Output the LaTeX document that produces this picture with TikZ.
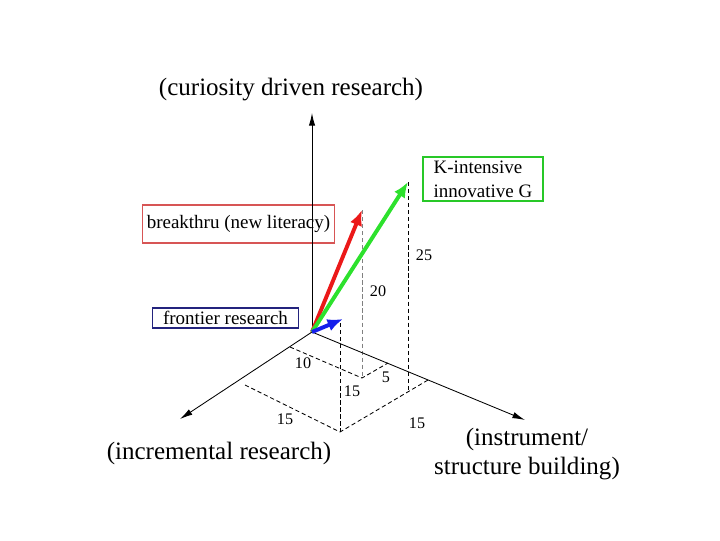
\documentclass[tikz,border=0pt]{standalone}
\usepackage{fontspec}
\setmainfont{Liberation Serif}
\usetikzlibrary{arrows.meta}

\definecolor{vecred}{RGB}{235,25,25}
\definecolor{vecgreen}{RGB}{45,225,45}
\definecolor{vecblue}{RGB}{20,30,235}
\definecolor{boxred}{RGB}{215,85,85}
\definecolor{boxblue}{RGB}{35,35,125}
\definecolor{boxgreen}{RGB}{40,200,40}

\begin{document}
\begin{tikzpicture}[
  x=0.025cm, y=-0.025cm,
  box/.style={rectangle, draw, line width=0.8pt, font=\fontsize{13.5}{17}\selectfont, inner sep=0pt},
  axislabel/.style={font=\fontsize{17.8}{21}\selectfont, align=center},
  num/.style={font=\fontsize{11.5}{13}\selectfont},
  axis/.style={-{Latex[length=9pt,width=4.5pt]}, line width=0.6pt},
  guide/.style={line width=0.6pt, dash pattern=on 3pt off 2pt},
  vec/.style={-{Latex[length=11pt,width=9pt]}, line width=2.8pt}
]
\useasboundingbox (0,0) rectangle (720,540);

% Axes
\coordinate (o) at (312,332);
\coordinate (up) at (312,113);
\coordinate (left) at (180,419);
\coordinate (right) at (525,420);

% Grid points
\coordinate (l1) at (290,347);
\coordinate (l2) at (245,385);
\coordinate (r1) at (388,363);
\coordinate (r2) at (428,380);
\coordinate (p1) at (362,378);
\coordinate (p2) at (340,432);
\coordinate (gfoot) at (408,390);

% Vector tips
\coordinate (rtip) at (362,210);
\coordinate (gtip) at (408,182);
\coordinate (btip) at (343,319);
\coordinate (btop) at (340,323);

% Labels
\node[axislabel] (curious) at (291,90) {(curiosity driven research)};
\node[axislabel] (incr) at (219,453) {(incremental research)};
\node[axislabel] (instr) at (527,454) {(instrument/\\structure building)};

\node[box, draw=boxred, minimum width=4.78cm, minimum height=0.95cm] (breakthru) at (238.5,224) {breakthru (new literacy)};
\node[box, draw=boxblue, minimum width=3.63cm, minimum height=0.5cm] (frontier) at (225.5,318) {frontier research};
\node[box, draw=boxgreen, minimum width=3cm, minimum height=1.1cm, align=left] (kint) at (483,179) {K-intensive\\innovative G};

% Dimensions
\node[num] (n25) at (424,255) {25};
\node[num] (n20) at (378,291) {20};
\node[num] (n10) at (303,363) {10};
\node[num] (n5) at (386,377) {5};
\node[num] (n15a) at (352,391) {15};
\node[num] (n15b) at (285,419) {15};
\node[num] (n15c) at (417,423) {15};

% Guides
\draw[guide] (l1) -- (p1) -- (r1);
\draw[guide] (l2) -- (p2) -- (r2);
\draw[guide] (btop) -- (p2);
\draw[guide, gray] (rtip) -- (p1);
\draw[guide] (gtip) -- (gfoot);

\draw[axis] (o) -- (up);
\draw[axis] (o) -- (left);
\draw[axis] (o) -- (right);

% Vectors
\draw[vec, vecred] (o) -- (rtip);
\draw[vec, vecgreen] (o) -- (gtip);
\draw[vec, vecblue] (o) -- (btip);
\end{tikzpicture}
\end{document}
